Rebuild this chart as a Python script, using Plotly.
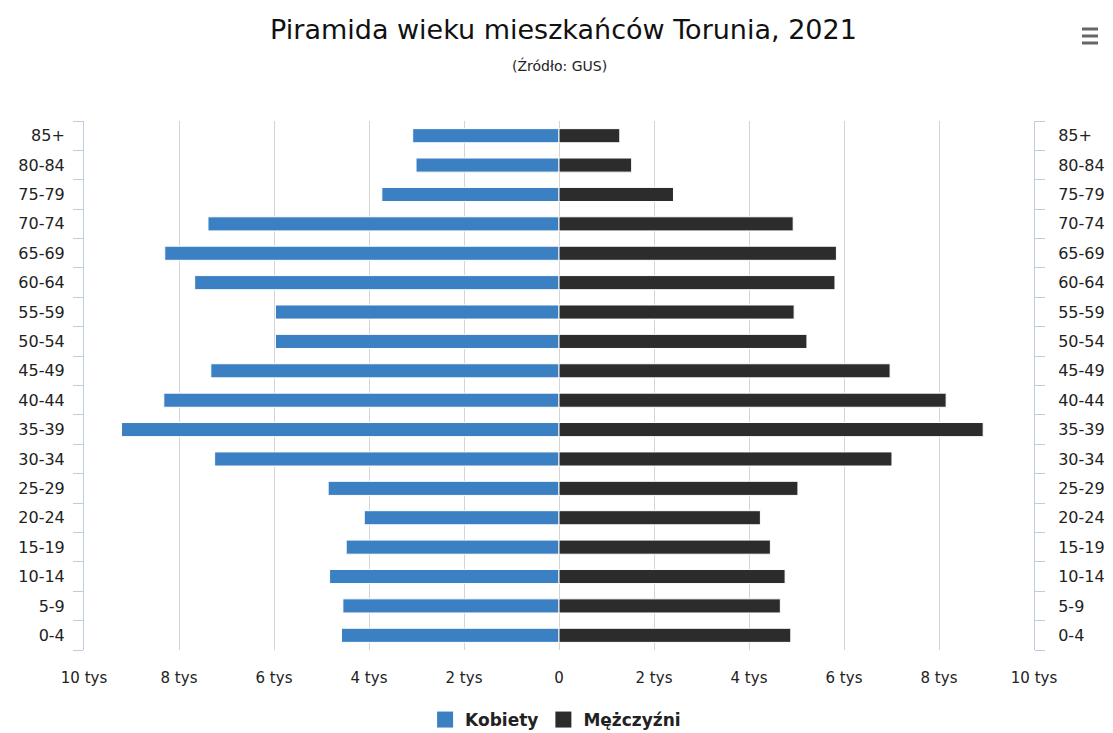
import plotly.graph_objects as go

# Age groups, bottom to top
age_groups = ["0-4", "5-9", "10-14", "15-19", "20-24", "25-29", "30-34", "35-39",
              "40-44", "45-49", "50-54", "55-59", "60-64", "65-69", "70-74",
              "75-79", "80-84", "85+"]

# Residents per age group (persons)
women = [4580, 4550, 4830, 4480, 4100, 4860, 7250, 9210,
         8320, 7330, 5970, 5970, 7670, 8300, 7390, 3730, 3010, 3080]
men = [4880, 4660, 4760, 4450, 4240, 5030, 7010, 8930,
       8150, 6970, 5220, 4950, 5810, 5840, 4930, 2410, 1530, 1280]

series_names = ["Kobiety", "Mężczyźni"]
series_colors = ["#3b80c2", "#2c2c2c"]

x_tick_values = [-10000, -8000, -6000, -4000, -2000, 0, 2000, 4000, 6000, 8000, 10000]
x_tick_labels = ["10 tys", "8 tys", "6 tys", "4 tys", "2 tys", "0",
                 "2 tys", "4 tys", "6 tys", "8 tys", "10 tys"]

FONT = "DejaVu Sans"
AXIS_LINE = "#c0cce0"
TEXT = "#222222"

W, H = 1113, 733
ML, MR, MT, MB = 84, 79, 121, 83
PW, PH = W - ML - MR, H - MT - MB


def px_to_paper_y(py):
    return (H - MB - py) / PH


def px_to_paper_x(px):
    return (px - ML) / PW


fig = go.Figure()

# Women extend to the left (negative), men to the right
fig.add_trace(go.Bar(
    name=series_names[0],
    y=age_groups,
    x=[-v for v in women],
    orientation="h",
    width=0.48,
    marker=dict(color=series_colors[0], line=dict(color="#ffffff", width=1)),
    customdata=women,
    hovertemplate="%{y}: %{customdata}<extra>Kobiety</extra>",
    showlegend=False,
    yaxis="y",
))

fig.add_trace(go.Bar(
    name=series_names[1],
    y=age_groups,
    x=men,
    orientation="h",
    width=0.48,
    marker=dict(color=series_colors[1], line=dict(color="#ffffff", width=1)),
    hovertemplate="%{y}: %{x}<extra>Mężczyźni</extra>",
    showlegend=False,
    yaxis="y2",
))

# Legend entries with larger square swatches
for name, color in zip(series_names, series_colors):
    fig.add_trace(go.Scatter(
        name=f"<b>{name}</b>",
        x=[None], y=[None],
        mode="markers",
        marker=dict(symbol="square", size=16, color=color),
        hoverinfo="skip",
        showlegend=True,
        yaxis="y",
    ))

category_axis = dict(
    type="category",
    categoryorder="array",
    categoryarray=age_groups,
    range=[-0.5, len(age_groups) - 0.5],
    showgrid=False,
    zeroline=False,
    showline=True,
    linecolor=AXIS_LINE,
    linewidth=1,
    ticks="outside",
    tickson="boundaries",
    ticklen=10,
    tickcolor=AXIS_LINE,
    tickwidth=1,
    ticklabelstandoff=15,
    tickfont=dict(family=FONT, size=16, color=TEXT),
    automargin=False,
    fixedrange=True,
)

fig.update_layout(
    width=W,
    height=H,
    margin=dict(l=ML, r=MR, t=MT, b=MB, autoexpand=False),
    paper_bgcolor="#ffffff",
    plot_bgcolor="#ffffff",
    barmode="overlay",
    font=dict(family=FONT, color=TEXT),
    title=dict(
        text="Piramida wieku mieszkańców Torunia, 2021",
        x=0.5 + 7 / W, xanchor="center",
        y=1 - 30 / H, yanchor="middle",
        font=dict(family=FONT, size=27, color="#111111"),
    ),
    xaxis=dict(
        range=[-10000, 10000],
        tickvals=x_tick_values,
        ticktext=x_tick_labels,
        showgrid=True,
        gridcolor="#d4d4d4",
        gridwidth=1,
        zeroline=False,
        showline=False,
        ticks="",
        ticklabelstandoff=17,
        tickfont=dict(family=FONT, size=15, color=TEXT),
        automargin=False,
        fixedrange=True,
    ),
    yaxis=dict(category_axis, side="left"),
    yaxis2=dict(category_axis, side="right", overlaying="y", ticklabelstandoff=20),
    legend=dict(
        orientation="h",
        x=0.5 - 4 / W, xanchor="center",
        yref="container",
        y=1 - 720 / H, yanchor="middle",
        font=dict(family=FONT, size=17, color=TEXT),
        traceorder="normal",
        itemsizing="trace",
    ),
    showlegend=True,
    annotations=[
        dict(
            text="(Źródło: GUS)",
            x=0.5, xref="paper", xanchor="center",
            y=px_to_paper_y(66), yref="paper", yanchor="middle",
            showarrow=False,
            font=dict(family=FONT, size=14, color="#222222"),
        ),
    ],
)

# Export menu icon (three bars) in the top-right corner
for yy in (29, 36, 43):
    fig.add_shape(
        type="line", xref="paper", yref="paper",
        x0=px_to_paper_x(1082), x1=px_to_paper_x(1098),
        y0=px_to_paper_y(yy), y1=px_to_paper_y(yy),
        line=dict(color="#666666", width=3),
    )

fig.write_html("out.html")
